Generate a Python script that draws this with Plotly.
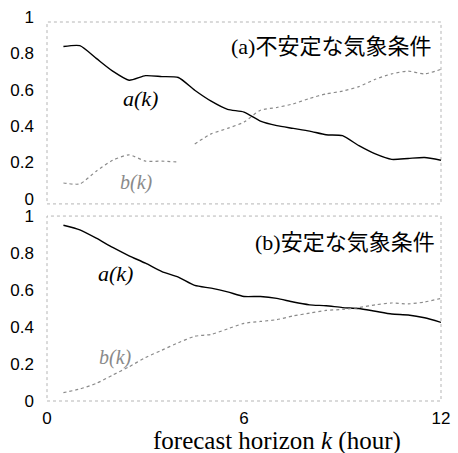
import plotly.graph_objects as go

k = [0.5, 1.0, 1.5, 2.0, 2.5, 3.0, 3.5, 4.0, 4.5, 5.0, 5.5, 6.0, 6.5, 7.0, 7.5, 8.0,
     8.5, 9.0, 9.5, 10.0, 10.5, 11.0, 11.5, 12.0]

a_unstable = [0.865, 0.87, 0.80, 0.73, 0.68, 0.705, 0.70, 0.695, 0.625, 0.565, 0.52, 0.505,
              0.455, 0.43, 0.415, 0.40, 0.38, 0.375, 0.32, 0.275, 0.245, 0.25, 0.255, 0.24]

k_b_unstable = [0.5, 1.0, 1.5, 2.0, 2.5, 3.0, 3.5, 4.0, 4.25, 4.5, 5.0, 5.5, 6.0, 6.5, 7.0,
                7.5, 8.0, 8.5, 9.0, 9.5, 10.0, 10.5, 11.0, 11.5, 12.0]
b_unstable = [0.115, 0.11, 0.18, 0.24, 0.27, 0.235, 0.235, 0.23, None, 0.33, 0.385, 0.415,
              0.45, 0.515, 0.53, 0.55, 0.58, 0.605, 0.62, 0.645, 0.685, 0.715, 0.73, 0.715, 0.74]

a_stable = [0.95, 0.925, 0.88, 0.83, 0.785, 0.745, 0.70, 0.67, 0.625, 0.61, 0.59, 0.565,
            0.565, 0.555, 0.535, 0.52, 0.515, 0.505, 0.50, 0.485, 0.47, 0.465, 0.45, 0.425]

b_stable = [0.045, 0.065, 0.095, 0.14, 0.185, 0.235, 0.275, 0.315, 0.35, 0.36, 0.39, 0.42,
            0.43, 0.44, 0.46, 0.475, 0.49, 0.495, 0.505, 0.52, 0.53, 0.525, 0.535, 0.555]

y_ticks = [0, 0.2, 0.4, 0.6, 0.8, 1]
y_ticktext = ["0", "0.2", "0.4", "0.6", "0.8", "1"]
x_ticks = [0, 6, 12]

SERIF = "Liberation Serif, Times New Roman, serif"
SANS = "Liberation Sans, Arial, sans-serif"
CJK = "Liberation Serif, Noto Sans CJK JP, serif"

fig = go.Figure()
line_a = dict(color="black", width=1.4, shape="spline", smoothing=0.6)
line_b = dict(color="#8a8a8a", width=1.2, dash="dot", shape="spline", smoothing=0.6)

fig.add_trace(go.Scatter(x=k, y=a_unstable, mode="lines", line=line_a, xaxis="x", yaxis="y"))
fig.add_trace(go.Scatter(x=k_b_unstable, y=b_unstable, mode="lines", line=line_b,
                         connectgaps=False, xaxis="x", yaxis="y"))
fig.add_trace(go.Scatter(x=k, y=a_stable, mode="lines", line=line_a, xaxis="x2", yaxis="y2"))
fig.add_trace(go.Scatter(x=k, y=b_stable, mode="lines", line=line_b, xaxis="x2", yaxis="y2"))

yax = dict(range=[0, 1], tickvals=y_ticks, ticktext=y_ticktext, showgrid=False,
           zeroline=False, showline=False, ticks="", ticklabelstandoff=12,
           tickfont=dict(family=SANS, size=17, color="black"))
xax_common = dict(range=[0, 12], tickvals=x_ticks, showgrid=False, zeroline=False,
                  showline=False, ticks="", ticklabeloverflow="allow",
                  tickfont=dict(family=SANS, size=17, color="black"))

fig.update_layout(
    width=458, height=453,
    margin=dict(l=47, r=8, t=20, b=52),
    paper_bgcolor="white", plot_bgcolor="white",
    showlegend=False,
    xaxis=dict(**xax_common, domain=[0, 1], anchor="y", showticklabels=False),
    yaxis=dict(**yax, domain=[0.52, 1.0], anchor="x", ticklabelshift=-5),
    xaxis2=dict(**xax_common, domain=[0, 1], anchor="y2", ticklabelstandoff=5),
    yaxis2=dict(**yax, domain=[0, 0.488], anchor="x2"),
)

frame = dict(color="#b5b5b5", width=1, dash="dot")
for xr, yr in (("x", "y"), ("x2", "y2")):
    fig.add_shape(type="rect", xref=xr + " domain", yref=yr + " domain",
                  x0=0, x1=1, y0=0, y1=1, line=frame, layer="below")

anns = [
    dict(x=5.55, y=0.863, xref="x", yref="y", text="(a)不安定な気象条件", xanchor="left",
         font=dict(family=CJK, size=22, color="black")),
    dict(x=2.85, y=0.58, xref="x", yref="y", text="<i>a(k)</i>",
         font=dict(family=SERIF, size=22, color="black")),
    dict(x=2.74, y=0.12, xref="x", yref="y", text="<i>b(k)</i>",
         font=dict(family=SERIF, size=20, color="#8a8a8a")),
    dict(x=6.28, y=0.855, xref="x2", yref="y2", text="(b)安定な気象条件", xanchor="left",
         font=dict(family=CJK, size=22, color="black")),
    dict(x=2.1, y=0.69, xref="x2", yref="y2", text="<i>a(k)</i>",
         font=dict(family=SERIF, size=22, color="black")),
    dict(x=2.1, y=0.235, xref="x2", yref="y2", text="<i>b(k)</i>",
         font=dict(family=SERIF, size=20, color="#8a8a8a")),
    dict(x=0.585, y=-0.106, xref="paper", yref="paper", text="forecast horizon <i>k</i> (hour)",
         yanchor="middle", font=dict(family=SERIF, size=25, color="black")),
]
for a in anns:
    a["showarrow"] = False
    fig.add_annotation(**a)

fig.write_html("out.html", config={"displayModeBar": False},
               post_script="document.body.style.margin='0';")
